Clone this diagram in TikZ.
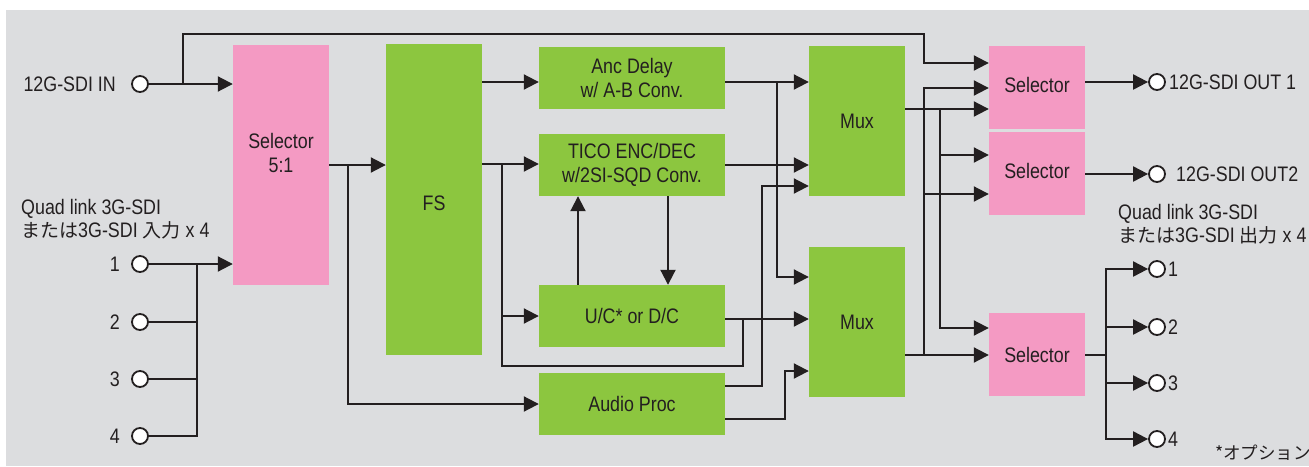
\documentclass[tikz,border=0pt]{standalone}
\usepackage{fontspec}
\setmainfont{Liberation Sans}[FakeStretch=0.85]
\newfontfamily\jpfont{Noto Sans CJK JP}
\newcommand{\jpt}[1]{{\jpfont\fontsize{19}{23.5}\selectfont #1}}
\usetikzlibrary{arrows.meta,calc}
\definecolor{bgc}{HTML}{DCDDDF}
\definecolor{pinkc}{HTML}{F49AC3}
\definecolor{greenc}{HTML}{8CC63F}
\definecolor{ink}{HTML}{231F20}
\tikzset{
  box/.style={draw=none, inner sep=0, align=center, text=ink},
  pbox/.style={box, fill=pinkc},
  gbox/.style={box, fill=greenc},
  port/.style={circle, draw=ink, fill=white, line width=1.8pt, minimum size=16pt, inner sep=0},
  arr/.style={draw=ink, line width=2pt, -{Triangle[length=15pt,width=15pt]}},
  ln/.style={draw=ink, line width=2pt},
  lbl/.style={text=ink, inner sep=0},
}
\begin{document}
\begin{tikzpicture}[x=1pt, y=-1pt, font=\fontsize{21}{23.5}\selectfont]
\useasboundingbox (0,0) rectangle (1309,466);
\fill[bgc] (6,10) rectangle (1309,466);

% blocks
\node[pbox, minimum width=96pt, minimum height=240pt] (sel) at (281,165) {};
\node[box] (seltxt) at (281,153) {Selector\\5:1};
\node[gbox, minimum width=96pt, minimum height=311pt] (fs) at (434,199.5) {};
\node[box] (fstxt) at (434,203) {FS};
\node[gbox, minimum width=186pt, minimum height=62pt] (anc) at (632,78) {Anc Delay\\w/ A-B Conv.};
\node[gbox, minimum width=186pt, minimum height=62pt] (tico) at (632,165) {TICO ENC/DEC\\w/2SI-SQD Conv.};
\node[gbox, minimum width=186pt, minimum height=62pt] (uc) at (632,316) {U/C* or D/C};
\node[gbox, minimum width=186pt, minimum height=62pt] (aud) at (632,404) {Audio Proc};
\node[gbox, minimum width=96pt, minimum height=150pt] (mux1) at (857,121) {Mux};
\node[gbox, minimum width=96pt, minimum height=150pt] (mux2) at (857,322) {Mux};
\node[pbox, minimum width=96pt, minimum height=83pt] (s1) at (1037,87.5) {};
\node[box] (s1t) at (1037,85) {Selector};
\node[pbox, minimum width=96pt, minimum height=83pt] (s2) at (1037,173.5) {};
\node[box] (s2t) at (1037,171) {Selector};
\node[pbox, minimum width=96pt, minimum height=83pt] (s3) at (1037,354.5) {Selector};

% ports
\node[port] (inc) at (140,84) {};
\node[port] (i1) at (140,264) {};
\node[port] (i2) at (140,322) {};
\node[port] (i3) at (140,379) {};
\node[port] (i4) at (140,436) {};
\node[port] (o1) at (1157,82) {};
\node[port] (o2) at (1157,174) {};
\node[port] (q1) at (1157,269) {};
\node[port] (q2) at (1157,327) {};
\node[port] (q3) at (1157,383) {};
\node[port] (q4) at (1157,439) {};

% labels
\node[lbl, anchor=east] (linc) at (116,84) {12G-SDI IN};
\node[lbl, anchor=east] (li1) at (120,264) {1};
\node[lbl, anchor=east] (li2) at (120,322) {2};
\node[lbl, anchor=east] (li3) at (120,379) {3};
\node[lbl, anchor=east] (li4) at (120,436) {4};
\node[lbl, anchor=north west, align=left] (lquadin) at (21,199) {Quad link 3G-SDI\\\jpt{または}3G-SDI \jpt{入力} x 4};
\node[lbl, anchor=west] (lo1) at (1169,82) {12G-SDI OUT 1};
\node[lbl, anchor=west] (lo2) at (1176,174) {12G-SDI OUT2};
\node[lbl, anchor=north west, align=left] (lquadout) at (1118,204) {Quad link 3G-SDI\\\jpt{または}3G-SDI \jpt{出力} x 4};
\node[lbl, anchor=west] (lq1) at (1168,269) {1};
\node[lbl, anchor=west] (lq2) at (1168,327) {2};
\node[lbl, anchor=west] (lq3) at (1168,383) {3};
\node[lbl, anchor=west] (lq4) at (1168,439) {4};
\node[lbl, anchor=west] (lopt) at (1215,453) {\jpt{\fontsize{17.5}{18}\selectfont *オプション}};

% branch coordinates
\coordinate (bIN) at (183,84);
\coordinate (bSel) at (348,165);
\coordinate (bFS) at (502,164);
\coordinate (bUC) at (502,316);
\coordinate (bAnc) at (777,82);
\coordinate (bM1) at (940,109);
\coordinate (bM1b) at (940,155);
\coordinate (bM2) at (924,355);
\coordinate (bM2b) at (924,194);
\coordinate (bS3) at (1106,355);
\coordinate (bS3b) at (1106,327);
\coordinate (bS3c) at (1106,383);

% inputs
\draw[arr] (inc) -- (inc -| sel.west);
\draw[arr] (bIN) -- (183,34) -| (924,63) -- (s1.west |- 0,63);
\draw[arr] (i1) -- (i1 -| sel.west);
\draw[ln] (i2) -- (i2 -| 197,0);
\draw[ln] (i3) -- (i3 -| 197,0);
\draw[ln] (i4) -| (197,264);

% selector -> FS / audio
\draw[arr] (sel.east) -- (sel.east -| fs.west);
\draw[arr] (bSel) |- (aud.west);

% FS outputs
\draw[arr] (fs.east |- 0,82) -- (anc.west |- 0,82);
\draw[arr] (fs.east |- 0,164) -- (tico.west |- 0,164);
\draw[arr] (bFS) |- (uc.west);
\draw[ln] (bUC) |- (743,366) -- (743,319);

% TICO <-> U/C
\draw[arr] (uc.north -| 578,0) -- (tico.south -| 578,0);
\draw[arr] (tico.south -| 668,0) -- (uc.north -| 668,0);

% to muxes
\draw[arr] (anc.east |- 0,82) -- (mux1.west |- 0,82);
\draw[arr] (bAnc) |- (mux2.west |- 0,277);
\draw[arr] (tico.east |- 0,165) -- (mux1.west |- 0,165);
\draw[arr] (uc.east |- 0,319) -- (mux2.west |- 0,319);
\draw[arr] (aud.east |- 0,386) -| (762,186) -- (mux1.west |- 0,186);
\draw[arr] (aud.east |- 0,419) -| (785,371) -- (mux2.west |- 0,371);

% muxes to selectors
\draw[arr] (mux1.east |- 0,109) -- (s1.west |- 0,109);
\draw[arr] (bM1) |- (s3.west |- 0,328);
\draw[arr] (bM1b) -- (s2.west |- 0,155);
\draw[arr] (mux2.east |- 0,355) -- (s3.west |- 0,355);
\draw[arr] (bM2) |- (s1.west |- 0,88);
\draw[arr] (bM2b) -- (s2.west |- 0,194);

% outputs
\draw[arr] (s1.east |- o1) -- (o1);
\draw[arr] (s2.east |- o2) -- (o2);
\draw[ln] (s3.east |- bS3) -- (bS3);
\draw[arr] (bS3) |- (q1);
\draw[arr] (bS3) |- (q4);
\draw[arr] (bS3b) -- (q2);
\draw[arr] (bS3c) -- (q3);
\end{tikzpicture}
\end{document}
